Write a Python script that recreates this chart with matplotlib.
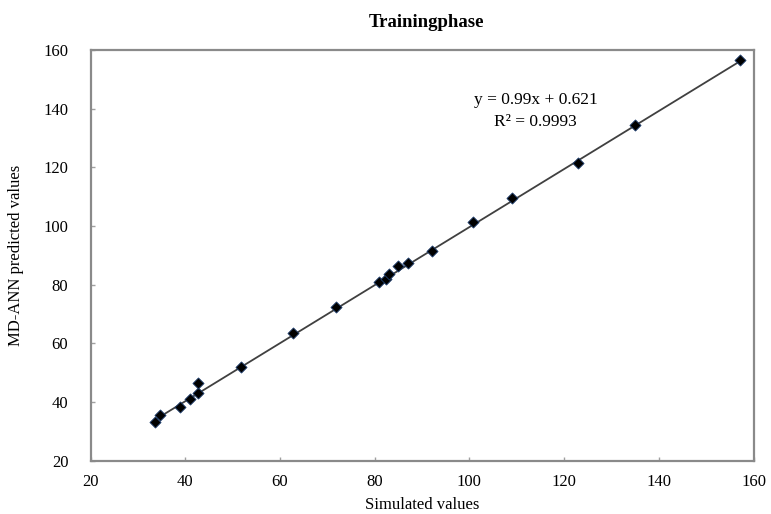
"""
Training phase scatter: simulated vs MD-ANN predicted values
"""

import numpy as np
import matplotlib.pyplot as plt

# ----------------------------------------------------
# Data
# ----------------------------------------------------

simulated = [33.6, 34.7, 38.8, 40.9, 42.8, 42.8, 51.8, 62.8, 71.8, 81.0,
             82.3, 83.0, 85.0, 87.0, 92.0, 100.8, 109.0, 122.9, 135.0, 157.2]

predicted = [33.2, 35.5, 38.1, 41.0, 42.9, 46.3, 52.0, 63.4, 72.3, 80.9,
             82.0, 83.5, 86.3, 87.5, 91.6, 101.4, 109.5, 121.5, 134.4, 156.5]

slope = 0.99
intercept = 0.621
r2_label = "0.9993"

ticks = [20, 40, 60, 80, 100, 120, 140, 160]

# ----------------------------------------------------
# Plot
# ----------------------------------------------------

plt.rcParams['font.family'] = ['Liberation Serif', 'DejaVu Serif']

fig = plt.figure(figsize=(7.71, 5.14), dpi=100)
ax = fig.add_axes([0.1174, 0.104, 0.860, 0.7986])

x_line = np.array([min(simulated), max(simulated)])
ax.plot(x_line, slope * x_line + intercept, color="#404040", lw=1.3, zorder=2)

ax.scatter(simulated, predicted, marker="D", s=32, color="black",
           edgecolors="#1f3f6f", linewidths=0.6, zorder=3)

ax.set_xlim(20, 160)
ax.set_ylim(20, 160)
ax.set_xticks(ticks)
ax.set_yticks(ticks)

ax.tick_params(axis="y", direction="in", length=3, width=1, color="#a0a0a0",
               labelsize=12, pad=16)
ax.tick_params(axis="x", direction="in", length=3, width=1, color="#a0a0a0",
               labelsize=12, pad=10)

for spine in ax.spines.values():
    spine.set_color("#8a8a8a")
    spine.set_linewidth(1.6)

ax.text(114, 143, f"y = {slope}x + {intercept}", ha="center", va="center",
        fontsize=12.5)
ax.text(114, 135.4, f"R² = {r2_label}", ha="center", va="center",
        fontsize=12.5)

fig.text(0.553, 0.957, "Trainingphase", ha="center", va="center",
         fontsize=13.5, fontweight="bold")

ax.set_xlabel("Simulated values", fontsize=12, labelpad=5)
ax.set_ylabel("MD-ANN predicted values", fontsize=12, labelpad=14)

plt.savefig("out.png", dpi=100)

plt.close()
